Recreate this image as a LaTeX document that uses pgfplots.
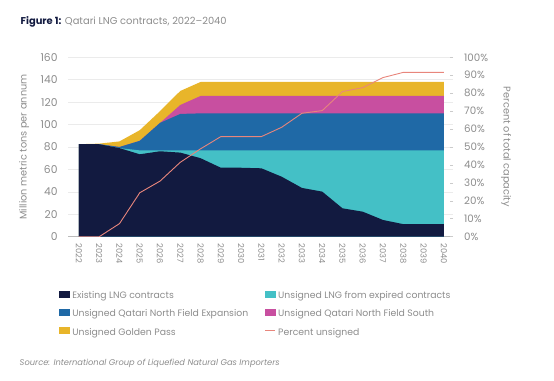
\documentclass[border=0pt]{standalone}
\usepackage{pgfplots}
\pgfplotsset{compat=1.18}
\usepackage{pgfplotstable}
\usepackage{fontspec}
\setmainfont{Poppins}
\definecolor{navy}{HTML}{121A40}
\definecolor{cyanc}{HTML}{44C0C6}
\definecolor{bluec}{HTML}{1F69A6}
\definecolor{pinkc}{HTML}{C84FA0}
\definecolor{yellowc}{HTML}{E8B52A}
\definecolor{linec}{HTML}{E8867C}
\definecolor{txtgray}{HTML}{8C8C8C}
\definecolor{gridc}{HTML}{EBEBEB}

\newlength\tmpw
\newcommand\fitsize[3]{\settowidth\tmpw{\fontsize{10}{12}\selectfont #2}\pgfmathsetmacro#1{10*#3*1.00375/\tmpw}}

\pgfplotstableread{
year existing cyantop bluetop pinktop total pct
2022 82.5 82.5 82.5 82.5 82.5 0
2023 82.5 82.5 82.5 82.5 83 0
2024 79 79 80 80 85 7.3
2025 73.5 77 85.5 85.5 95 24.5
2026 76.2 77 101.5 101.5 112 31
2027 75 77 109.5 117.5 130 41.5
2028 70 77 110 125.5 138 49
2029 61.5 77 110 125.5 138 55.8
2030 61.5 77 110 125.5 138 55.8
2031 61 77 110 125.5 138 55.8
2032 53.5 77 110 125.5 138 61
2033 43.5 77 110 125.5 138 68.8
2034 40.2 77 110 125.5 138 70.3
2035 25.3 77 110 125.5 138 80.9
2036 22.3 77 110 125.5 138 83.1
2037 14.9 77 110 125.5 138 88.7
2038 11.2 77 110 125.5 138 91.6
2039 11.2 77 110 125.5 138 91.6
2040 11.2 77 110 125.5 138 91.6
}\datatable

\begin{document}%
\fitsize\titlesize{\textbf{Figure 1:} Qatari LNG contracts, 2022--2040}{206}%
\fitsize\srcsize{\itshape Source: International Group of Liquefied Natural Gas Importers}{260}%
\fitsize\legsize{Unsigned Qatari North Field Expansion}{176}%
\fitsize\ylsize{Million metric tons per annum}{145}%
\fitsize\yrsize{Percent of total capacity}{120}%
\fitsize\ytsize{160}{17}%
\fitsize\xtsize{2022}{19.5}%
\fitsize\rtsize{100\%}{24}%
\begin{tikzpicture}[x=1bp,y=1bp]
\path[use as bounding box] (0,0) rectangle (554,380);
\node[anchor=base west, inner sep=0pt, font=\fontsize{\titlesize}{\titlesize}\selectfont] at (20.5,355.5) {\textcolor{navy}{\textbf{Figure 1:}} \textcolor{txtgray}{Qatari LNG contracts, 2022--2040}};
\node[anchor=base west, inner sep=0pt, font=\fontsize{\srcsize}{\srcsize}\selectfont\itshape, text=txtgray] at (19.5,14.5) {Source: International Group of Liquefied Natural Gas Importers};

\begin{axis}[
  at={(68bp,143.3bp)}, anchor=south west,
  scale only axis, width=385bp, height=179.4bp,
  xmin=2021.46, xmax=2040.45,
  ymin=0, ymax=160,
  ytick={0,20,...,160},
  xtick={2022,...,2040},
  axis x line*=bottom, axis y line*=left,
  axis line style={draw=none},
  x axis line style={draw=gridc!55!gray, line width=0.6pt},
  major tick length=0pt,
  ymajorgrids, grid style={gridc, line width=0.6pt},
  tick label style={text=txtgray},
  yticklabel style={font=\fontsize{\ytsize}{\ytsize}\selectfont},
  xticklabel style={font=\fontsize{\xtsize}{\xtsize}\selectfont},
  /pgf/number format/assume math mode=true,
  xticklabel style={rotate=-90, anchor=west, inner sep=0pt},
  xticklabel shift={6.5bp},
  x tick label style={/pgf/number format/1000 sep={}},
  yticklabel style={inner sep=0pt, xshift=-10.3bp},
  ylabel={Million metric tons per annum},
  every axis y label/.style={at={(axis description cs:-0.1135,0.5)}, rotate=90, anchor=center, font=\fontsize{\ylsize}{\ylsize}\selectfont, text=txtgray},
  legend columns=2,
  legend cell align=left,
  legend style={at={(axis description cs:-0.0234,-0.299)}, anchor=north west, draw=none, fill=none,
    font=\fontsize{\legsize}{\legsize}\selectfont, text=txtgray, inner sep=0pt,
    nodes={inner sep=0pt, text height=7bp, text depth=2bp},
    /tikz/every odd column/.append style={column sep=2.7bp},
    /tikz/column 2/.append style={column sep=16.3bp},
    row sep=8bp},
  legend image code/.code={\fill[#1] (0bp,-0.5bp) rectangle (10bp,5.5bp);},
]
\addplot[fill=yellowc, draw=none, forget plot] table[x=year, y=total] {\datatable} \closedcycle;
\addplot[fill=pinkc, draw=none, forget plot] table[x=year, y=pinktop] {\datatable} \closedcycle;
\addplot[fill=bluec, draw=none, forget plot] table[x=year, y=bluetop] {\datatable} \closedcycle;
\addplot[fill=cyanc, draw=none, forget plot] table[x=year, y=cyantop] {\datatable} \closedcycle;
\addplot[fill=navy, draw=none, forget plot] table[x=year, y=existing] {\datatable} \closedcycle;
\addlegendimage{navy}
\addlegendentry{Existing LNG contracts}
\addlegendimage{cyanc}
\addlegendentry{Unsigned LNG from expired contracts}
\addlegendimage{bluec}
\addlegendentry{Unsigned Qatari North Field Expansion}
\addlegendimage{pinkc}
\addlegendentry{Unsigned Qatari North Field South}
\addlegendimage{yellowc}
\addlegendentry{Unsigned Golden Pass}
\addlegendimage{legend image code/.code={\draw[linec, line width=0.9pt] (0bp,2.5bp) -- (10bp,2.5bp);}}
\addlegendentry{Percent unsigned}
\end{axis}

\begin{axis}[
  at={(68bp,143.3bp)}, anchor=south west,
  scale only axis, width=385bp, height=179.4bp,
  xmin=2021.46, xmax=2040.45,
  ymin=0, ymax=100,
  ytick={0,10,...,100},
  yticklabel={\pgfmathprintnumber{\tick}\%},
  axis y line*=right, axis x line=none,
  axis line style={draw=none},
  ytick align=inside,
  major tick length=3.5bp,
  ytick style={draw=gridc!70!gray, line width=0.6pt},
  tick label style={font=\fontsize{\rtsize}{\rtsize}\selectfont, text=txtgray},
  /pgf/number format/assume math mode=true,
  yticklabel style={inner sep=0pt, xshift=11bp},
  ylabel={Percent of total capacity},
  every axis y label/.style={at={(axis description cs:1.138,0.5)}, rotate=-90, anchor=center, font=\fontsize{\yrsize}{\yrsize}\selectfont, text=txtgray},
]
\addplot[linec, line width=0.9pt] table[x=year, y=pct] {\datatable};
\end{axis}
\end{tikzpicture}
\end{document}
